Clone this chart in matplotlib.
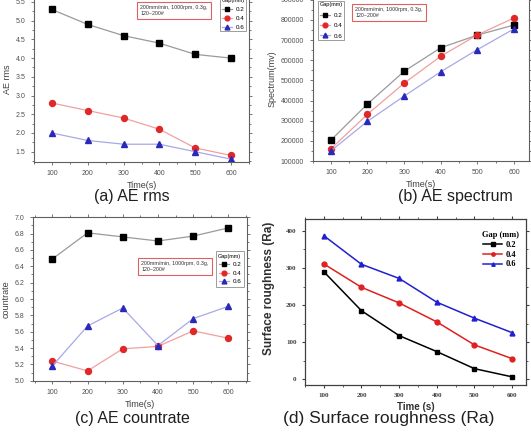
import matplotlib
matplotlib.use("Agg")
import matplotlib.pyplot as plt
from matplotlib.ticker import MultipleLocator, AutoMinorLocator

# data
time_s = [100, 200, 300, 400, 500, 600]
gaps = ["0.2", "0.4", "0.6"]

rms_02 = [5.3, 4.9, 4.6, 4.4, 4.1, 4.0]
rms_04 = [2.8, 2.6, 2.4, 2.1, 1.6, 1.4]
rms_06 = [2.0, 1.8, 1.7, 1.7, 1.5, 1.3]

spec_02 = [203000, 383000, 545000, 662000, 725000, 775000]
spec_04 = [160000, 332000, 486000, 620000, 726000, 810000]
spec_06 = [150000, 297000, 422000, 543000, 653000, 756000]

count_02 = [6.49, 6.81, 6.76, 6.71, 6.77, 6.87]
count_04 = [5.24, 5.12, 5.39, 5.42, 5.61, 5.52]
count_06 = [5.18, 5.67, 5.89, 5.43, 5.76, 5.91]

ra_02 = [290, 185, 118, 75, 29, 7]
ra_04 = [311, 248, 206, 155, 93, 56]
ra_06 = [387, 310, 272, 208, 165, 126]

note = "200mm/min, 1000rpm, 0.3g,\n120~200#"

W, H = 531, 433
fig = plt.figure(figsize=(W / 100, H / 100), dpi=100)
plt.rcParams['font.family'] = ['Liberation Sans', 'DejaVu Sans']


def px_axes(left, top, right, bottom):
    return fig.add_axes([left / W, 1 - bottom / H, (right - left) / W, (bottom - top) / H])


# origin style for a, b, c
mk_cols = ["black", "#e02828", "#2a2ab8"]
ln_cols = ["#9a9a9a", "#f0a0a0", "#a8a8e8"]
markers = ["s", "o", "^"]


def origin_style(ax, ymajor, yminor_n=2):
    for s in ax.spines.values():
        s.set_color("#606060")
        s.set_linewidth(0.8)
    ax.xaxis.set_major_locator(MultipleLocator(100))
    ax.xaxis.set_minor_locator(AutoMinorLocator(2))
    ax.yaxis.set_major_locator(MultipleLocator(ymajor))
    ax.yaxis.set_minor_locator(AutoMinorLocator(yminor_n))
    ax.tick_params(which="both", direction="out", colors="#606060", labelcolor="#505050",
                   labelsize=5, top=True, right=True, width=0.6)
    ax.tick_params(which="major", length=2.5)
    ax.tick_params(which="minor", length=1.5)
    ax.set_xlabel("Time(s)", fontsize=6.5, color="#404040", labelpad=3)


def draw_series(ax, ys):
    for y, mc, lc, m, g in zip(ys, mk_cols, ln_cols, markers, gaps):
        ax.plot(time_s, y, color=lc, lw=0.9, marker=m, ms=4.3, mfc=mc, mec=mc, label=g)


def note_box(ax, x, y, va="top"):
    ax.text(x, y, note, transform=ax.transAxes, fontsize=3.8, color="#303030", va=va, ha="left",
            bbox=dict(boxstyle="square,pad=0.6", fc="white", ec="#e06060", lw=0.8))


def legend(ax, loc, anchor, spacing=0.5, pad=0.4):
    lg = ax.legend(title="Gap(mm)", loc=loc, bbox_to_anchor=anchor, fontsize=4.5, title_fontsize=4,
                   frameon=True, fancybox=False, edgecolor="#707070", handlelength=1.6,
                   borderpad=pad, labelspacing=spacing, handletextpad=0.6, markerscale=0.8)
    lg.get_frame().set_linewidth(0.6)
    return lg


# (a) AE rms
ax_a = px_axes(34, -3, 249, 161.7)
draw_series(ax_a, [rms_02, rms_04, rms_06])
ax_a.set_xlim(50, 650)
ax_a.set_ylim(1.233, 5.633)
origin_style(ax_a, 0.5)
ax_a.set_ylabel("AE rms", fontsize=6.5, color="#404040", labelpad=3)
legend(ax_a, "lower right", (1.0, 0.772), spacing=0.6, pad=0.2)
note_box(ax_a, 0.495, 0.885, va="bottom")

# (b) AE spectrum
ax_b = px_axes(312.5, -3, 528.7, 161)
draw_series(ax_b, [spec_02, spec_04, spec_06])
ax_b.set_xlim(50, 640)
ax_b.set_ylim(100000, 914000)
origin_style(ax_b, 100000)
ax_b.set_ylabel("Spectrum(mv)", fontsize=6.5, color="#404040", labelpad=3)
legend(ax_b, "lower left", (0.012, 0.72), spacing=0.8, pad=0.2)
note_box(ax_b, 0.197, 0.872, va="bottom")

# (c) AE countrate
ax_c = px_axes(33, 217.3, 247, 380.7)
draw_series(ax_c, [count_02, count_04, count_06])
ax_c.set_xlim(45, 653)
ax_c.set_ylim(5.0, 7.0)
origin_style(ax_c, 0.2)
ax_c.yaxis.set_major_formatter(plt.FormatStrFormatter("%.1f"))
ax_c.set_ylabel("countrate", fontsize=6.5, color="#404040", labelpad=3)
legend(ax_c, "upper right", (1.0, 0.81))
note_box(ax_c, 0.505, 0.733)

# (d) Surface roughness
ax_d = px_axes(305, 219, 526, 385)
d_cols = ["black", "#e02020", "#2020d0"]
for y, c, m, g in zip([ra_02, ra_04, ra_06], d_cols, ["s", "o", "^"], gaps):
    ax_d.plot(time_s, y, color=c, lw=1.1, marker=m, ms=3.5, mfc=c, mec=c, label=g)
ax_d.set_xlim(50, 637)
ax_d.set_ylim(-15, 432)
ax_d.xaxis.set_major_locator(MultipleLocator(100))
ax_d.xaxis.set_minor_locator(AutoMinorLocator(2))
ax_d.yaxis.set_major_locator(MultipleLocator(100))
ax_d.yaxis.set_minor_locator(AutoMinorLocator(2))
for s in ax_d.spines.values():
    s.set_color("#404040")
    s.set_linewidth(0.9)
ax_d.tick_params(which="both", direction="out", labelsize=5, colors="#404040", top=True, right=True)
ax_d.tick_params(which="major", length=2.5)
ax_d.tick_params(which="minor", length=1.5)
for lab in ax_d.get_xticklabels() + ax_d.get_yticklabels():
    lab.set_family("Liberation Serif")
    lab.set_fontweight("bold")
ax_d.set_xlabel("Time (s)", fontsize=7, fontweight="bold", color="#303030", labelpad=3)
ax_d.set_ylabel("Surface roughness (Ra)", fontsize=8.5, fontweight="bold", color="#303030")
ax_d.yaxis.set_label_coords(-0.136, 0.585)
lg_d = ax_d.legend(title="Gap (mm)", loc="upper right", bbox_to_anchor=(1.0, 0.97), frameon=False,
                   prop={"family": "Liberation Serif", "weight": "bold", "size": 6},
                   handlelength=2.2, labelspacing=0.2, handletextpad=0.5, markerscale=0.7)
lg_d.get_title().set_family("Liberation Serif")
lg_d.get_title().set_fontweight("bold")
lg_d.get_title().set_fontsize(6)

# panel captions
fig.text(132 / W, 1 - 197 / H, "(a) AE rms", fontsize=11.5, ha="center", va="center", color="#202020")
fig.text(455 / W, 1 - 197 / H, "(b) AE spectrum", fontsize=11.5, ha="center", va="center", color="#202020")
fig.text(132 / W, 1 - 419 / H, "(c) AE countrate", fontsize=11.5, ha="center", va="center", color="#202020")
fig.text(389 / W, 1 - 419 / H, "(d) Surface roughness (Ra)", fontsize=12.5, ha="center", va="center",
         color="#202020")

fig.savefig("out.png", dpi=100)
